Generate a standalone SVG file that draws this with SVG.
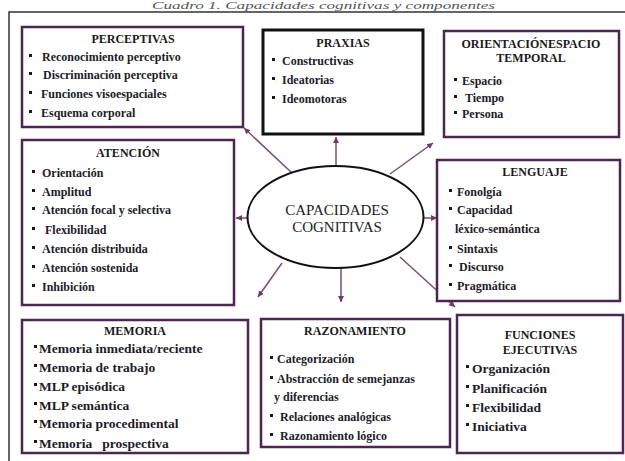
<svg xmlns="http://www.w3.org/2000/svg" width="625" height="461" viewBox="0 0 625 461">
<defs>
<style>
.frame{fill:none;stroke:#333;stroke-width:1.5}
.box{fill:#fff;stroke:#4e2450;stroke-width:2.5}
.boxk{fill:#fff;stroke:#111;stroke-width:3}
.t{font-family:"Liberation Serif","Times New Roman",serif;font-weight:bold;font-size:12px;fill:#1a1a1a;text-anchor:middle}
.i{font-family:"Liberation Serif","Times New Roman",serif;font-weight:bold;font-size:12px;fill:#1c1c28}
.i2{font-family:"Liberation Serif","Times New Roman",serif;font-weight:bold;font-size:13.5px;fill:#1c1c28}
.b{fill:#1a1a1a}
.c{font-family:"Liberation Serif","Times New Roman",serif;font-size:15px;fill:#222;text-anchor:middle}
.cap{font-family:"Liberation Serif","Times New Roman",serif;font-style:italic;font-size:10.5px;fill:#555}
.ar{stroke:#7a4f7a;stroke-width:1.5;fill:none;marker-end:url(#ah)}
</style>
<marker id="ah" markerUnits="userSpaceOnUse" markerWidth="7" markerHeight="7" refX="6" refY="3" orient="auto">
<path d="M0,0 L6,3 L0,6 z" fill="#6e3a6e"/>
</marker>
</defs>
<rect width="625" height="461" fill="#fff"/>
<text class="cap" x="152" y="9" textLength="343" lengthAdjust="spacingAndGlyphs">Cuadro 1. Capacidades cognitivas y componentes</text>
<path class="frame" d="M9,461 L9,12 L625,12"/>

<g id="connectors">
<line class="ar" x1="292" y1="173" x2="244" y2="128"/>
<line class="ar" x1="336" y1="166" x2="336" y2="137"/>
<line class="ar" x1="390" y1="174" x2="433" y2="143"/>
<line class="ar" x1="248" y1="218" x2="236" y2="218"/>
<line class="ar" x1="424" y1="218" x2="437" y2="218"/>
<line class="ar" x1="282" y1="263" x2="258" y2="297"/>
<line class="ar" x1="341" y1="268" x2="341" y2="302"/>
<line class="ar" x1="400" y1="257" x2="455" y2="307"/>
</g>

<g id="center">
<ellipse cx="335.5" cy="217" rx="88" ry="51" fill="#fff" stroke="#111" stroke-width="2"/>
<text class="c" x="337" y="215">CAPACIDADES</text>
<text class="c" x="337" y="232">COGNITIVAS</text>
</g>

<g id="perceptivas">
<rect class="box" x="22" y="27" width="221" height="100"/>
<text class="t" x="133" y="43">PERCEPTIVAS</text>
<rect class="b" x="29" y="54" width="3" height="3"/><text class="i" x="42" y="61">Reconocimiento perceptivo</text>
<rect class="b" x="29" y="72" width="3" height="3"/><text class="i" x="43" y="79">Discriminación perceptiva</text>
<rect class="b" x="29" y="91" width="3" height="3"/><text class="i" x="41" y="98">Funciones visoespaciales</text>
<rect class="b" x="29" y="110" width="3" height="3"/><text class="i" x="41" y="117">Esquema corporal</text>
</g>

<g id="praxias">
<rect class="boxk" x="263" y="30" width="160" height="104"/>
<text class="t" x="343" y="47">PRAXIAS</text>
<rect class="b" x="272" y="58" width="3" height="3"/><text class="i" x="282" y="65">Constructivas</text>
<rect class="b" x="272" y="77" width="3" height="3"/><text class="i" x="282" y="84">Ideatorias</text>
<rect class="b" x="272" y="96" width="3" height="3"/><text class="i" x="282" y="103">Ideomotoras</text>
</g>

<g id="orientacion">
<rect class="box" x="444" y="31" width="175" height="106"/>
<text class="t" x="531" y="48">ORIENTACIÓNESPACIO</text>
<text class="t" x="531" y="62">TEMPORAL</text>
<rect class="b" x="454" y="78" width="3" height="3"/><text class="i" x="462" y="85">Espacio</text>
<rect class="b" x="454" y="95" width="3" height="3"/><text class="i" x="465" y="102">Tiempo</text>
<rect class="b" x="454" y="111" width="3" height="3"/><text class="i" x="462" y="118">Persona</text>
</g>

<g id="atencion">
<rect class="box" x="22" y="140" width="212" height="165"/>
<text class="t" x="128" y="157">ATENCIÓN</text>
<rect class="b" x="32" y="170" width="3" height="3"/><text class="i" x="42" y="177">Orientación</text>
<rect class="b" x="32" y="189" width="3" height="3"/><text class="i" x="42" y="196">Amplitud</text>
<rect class="b" x="32" y="207" width="3" height="3"/><text class="i" x="42" y="214">Atención focal y selectiva</text>
<rect class="b" x="32" y="227" width="3" height="3"/><text class="i" x="45" y="234">Flexibilidad</text>
<rect class="b" x="32" y="246" width="3" height="3"/><text class="i" x="42" y="253">Atención distribuida</text>
<rect class="b" x="32" y="265" width="3" height="3"/><text class="i" x="42" y="272">Atención sostenida</text>
<rect class="b" x="32" y="284" width="3" height="3"/><text class="i" x="42" y="291">Inhibición</text>
</g>

<g id="lenguaje">
<rect class="box" x="437" y="160" width="183" height="141"/>
<text class="t" x="535" y="176">LENGUAJE</text>
<rect class="b" x="449" y="189" width="3" height="3"/><text class="i" x="457" y="196">Fonolgía</text>
<rect class="b" x="449" y="207" width="3" height="3"/><text class="i" x="457" y="214">Capacidad</text>
<text class="i" x="455" y="233">léxico-semántica</text>
<rect class="b" x="449" y="246" width="3" height="3"/><text class="i" x="457" y="253">Sintaxis</text>
<rect class="b" x="449" y="264" width="3" height="3"/><text class="i" x="459" y="271">Discurso</text>
<rect class="b" x="449" y="283" width="3" height="3"/><text class="i" x="457" y="290">Pragmática</text>
</g>

<g id="memoria">
<rect class="box" x="22" y="320" width="226" height="133"/>
<text class="t" x="135" y="335">MEMORIA</text>
<rect class="b" x="34" y="345" width="3" height="3"/><text class="i2" x="39" y="353">Memoria inmediata/reciente</text>
<rect class="b" x="34" y="364" width="3" height="3"/><text class="i2" x="39" y="372">Memoria de trabajo</text>
<rect class="b" x="34" y="383" width="3" height="3"/><text class="i2" x="39" y="391">MLP episódica</text>
<rect class="b" x="34" y="402" width="3" height="3"/><text class="i2" x="39" y="410">MLP semántica</text>
<rect class="b" x="34" y="420" width="3" height="3"/><text class="i2" x="39" y="428">Memoria procedimental</text>
<rect class="b" x="34" y="440" width="3" height="3"/><text class="i2" x="39" y="448" xml:space="preserve">Memoria   prospectiva</text>
</g>

<g id="razonamiento">
<rect class="box" x="261" y="319" width="189" height="128"/>
<text class="t" x="355" y="335">RAZONAMIENTO</text>
<rect class="b" x="270" y="356" width="3" height="3"/><text class="i" x="277" y="363">Categorización</text>
<rect class="b" x="270" y="376" width="3" height="3"/><text class="i" x="277" y="383">Abstracción de semejanzas</text>
<text class="i" x="274" y="401">y diferencias</text>
<rect class="b" x="270" y="414" width="3" height="3"/><text class="i" x="280" y="421">Relaciones analógicas</text>
<rect class="b" x="270" y="433" width="3" height="3"/><text class="i" x="280" y="440">Razonamiento lógico</text>
</g>

<g id="funciones">
<rect class="box" x="457" y="315" width="166" height="138"/>
<text class="t" x="540" y="339">FUNCIONES</text>
<text class="t" x="540" y="354">EJECUTIVAS</text>
<rect class="b" x="466" y="365" width="3" height="3"/><text class="i2" x="472" y="373">Organización</text>
<rect class="b" x="466" y="385" width="3" height="3"/><text class="i2" x="472" y="393">Planificación</text>
<rect class="b" x="466" y="404" width="3" height="3"/><text class="i2" x="472" y="412">Flexibilidad</text>
<rect class="b" x="466" y="423" width="3" height="3"/><text class="i2" x="472" y="431">Iniciativa</text>
</g>
</svg>
